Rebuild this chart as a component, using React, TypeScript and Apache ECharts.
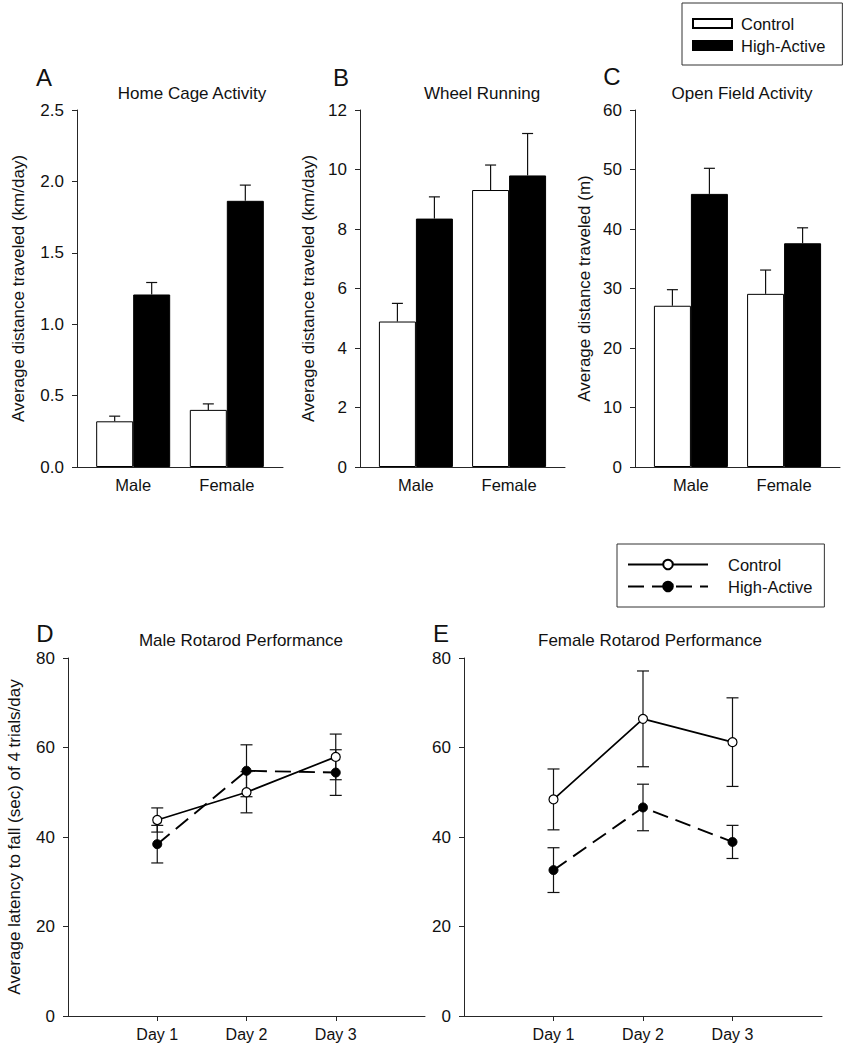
import React, { useEffect, useRef } from "react";
import * as echarts from "echarts";

// ---------- data ----------
const groups = ["Male", "Female"];
const groupPos = [6, 16];
const days = ["Day 1", "Day 2", "Day 3"];
const dayPos = [1, 2, 3];

const homeCageControl = [0.32, 0.4];
const homeCageControlErr = [0.036, 0.042];
const homeCageHigh = [1.208, 1.864];
const homeCageHighErr = [0.084, 0.11];

const wheelControl = [4.89, 9.31];
const wheelControlErr = [0.61, 0.84];
const wheelHigh = [8.35, 9.8];
const wheelHighErr = [0.73, 1.41];

const openFieldControl = [27.1, 29.1];
const openFieldControlErr = [2.7, 4.0];
const openFieldHigh = [45.9, 37.6];
const openFieldHighErr = [4.3, 2.6];

const maleRotaControl = [43.8, 50.0, 57.9];
const maleRotaControlErr = [2.7, 4.6, 5.1];
const maleRotaHigh = [38.4, 54.8, 54.4];
const maleRotaHighErr = [4.2, 5.8, 5.1];

const femaleRotaControl = [48.4, 66.4, 61.2];
const femaleRotaControlErr = [6.8, 10.7, 9.9];
const femaleRotaHigh = [32.6, 46.6, 38.9];
const femaleRotaHighErr = [5.0, 5.2, 3.7];

// ---------- styling ----------
const FONT = "'Liberation Sans', Arial, Helvetica, sans-serif";
const INK = "#111";
const AXIS = "#262626";
const BAR_W = 37;

const axisLine = { show: true, onZero: false, lineStyle: { color: AXIS, width: 1 } };
const tickStyle = { color: AXIS, width: 1 };

function barYAxis(gridIndex: number, max: number, interval: number, name: string, nameGap: number, digits: number) {
  return {
    type: "value",
    gridIndex,
    min: 0,
    max,
    interval,
    axisLine,
    axisTick: { show: true, length: 5, lineStyle: tickStyle },
    axisLabel: {
      margin: 13,
      color: INK,
      fontSize: 17,
      fontFamily: FONT,
      formatter: (v: number) => v.toFixed(digits),
    },
    splitLine: { show: false },
    name,
    nameLocation: "middle",
    nameGap,
    nameTextStyle: { color: INK, fontSize: 17, fontFamily: FONT },
  };
}

function barXAxis(gridIndex: number) {
  return {
    type: "value",
    gridIndex,
    min: 0,
    max: 22,
    axisLine,
    axisTick: { show: false },
    axisLabel: {
      customValues: groupPos,
      margin: 9,
      color: INK,
      fontSize: 16.5,
      fontFamily: FONT,
      formatter: (v: number) => {
        const i = groupPos.indexOf(v);
        return i >= 0 ? groups[i] : "";
      },
    },
    splitLine: { show: false },
  };
}

function lineXAxis(gridIndex: number) {
  return {
    type: "value",
    gridIndex,
    min: 0,
    max: 4,
    interval: 1,
    axisLine,
    axisTick: { show: true, length: 5, lineStyle: tickStyle },
    axisLabel: {
      margin: 10,
      color: INK,
      fontSize: 16,
      fontFamily: FONT,
      showMinLabel: false,
      showMaxLabel: false,
      formatter: (v: number) => {
        const i = dayPos.indexOf(v);
        return i >= 0 ? days[i] : "";
      },
    },
    splitLine: { show: false },
  };
}

function lineYAxis(gridIndex: number, name?: string, nameGap?: number) {
  const ax: any = {
    type: "value",
    gridIndex,
    min: 0,
    max: 80,
    interval: 20,
    axisLine,
    axisTick: { show: true, length: 5, lineStyle: tickStyle },
    axisLabel: { margin: 13, color: INK, fontSize: 17, fontFamily: FONT },
    splitLine: { show: false },
  };
  if (name) {
    ax.name = name;
    ax.nameLocation = "middle";
    ax.nameGap = nameGap;
    ax.nameTextStyle = { color: INK, fontSize: 17, fontFamily: FONT };
  }
  return ax;
}

const errStyle = { stroke: "#111", lineWidth: 1.2 };

function barErrRender(offset: number) {
  return (params: any, api: any) => {
    const x = api.value(0);
    const v = api.value(1);
    const e = api.value(2);
    const p0 = api.coord([x, v]);
    const p1 = api.coord([x, v + e]);
    const cx = p0[0] + offset;
    return {
      type: "group",
      children: [
        { type: "line", shape: { x1: cx, y1: p0[1], x2: cx, y2: p1[1] }, style: errStyle },
        { type: "line", shape: { x1: cx - 5.5, y1: p1[1], x2: cx + 5.5, y2: p1[1] }, style: errStyle },
      ],
    };
  };
}

function lineErrRender(params: any, api: any) {
  const x = api.value(0);
  const v = api.value(1);
  const e = api.value(2);
  const top = api.coord([x, v + e]);
  const bot = api.coord([x, v - e]);
  const cx = top[0];
  return {
    type: "group",
    children: [
      { type: "line", shape: { x1: cx, y1: top[1], x2: cx, y2: bot[1] }, style: errStyle },
      { type: "line", shape: { x1: cx - 6, y1: top[1], x2: cx + 6, y2: top[1] }, style: errStyle },
      { type: "line", shape: { x1: cx - 6, y1: bot[1], x2: cx + 6, y2: bot[1] }, style: errStyle },
    ],
  };
}

function barSeries(axisIndex: number, ctrl: number[], ctrlErr: number[], high: number[], highErr: number[]) {
  return [
    {
      type: "bar",
      name: "Control",
      xAxisIndex: axisIndex,
      yAxisIndex: axisIndex,
      barWidth: BAR_W,
      barGap: "0%",
      itemStyle: { color: "#ffffff", borderColor: "#000", borderWidth: 1 },
      data: groupPos.map((x, i) => [x, ctrl[i]]),
      z: 2,
    },
    {
      type: "bar",
      name: "High-Active",
      xAxisIndex: axisIndex,
      yAxisIndex: axisIndex,
      barWidth: BAR_W,
      barGap: "0%",
      itemStyle: { color: "#000", borderColor: "#000", borderWidth: 1 },
      data: groupPos.map((x, i) => [x, high[i]]),
      z: 2,
    },
    {
      type: "custom",
      name: "ctrl-err",
      xAxisIndex: axisIndex,
      yAxisIndex: axisIndex,
      renderItem: barErrRender(-BAR_W / 2),
      data: groupPos.map((x, i) => [x, ctrl[i], ctrlErr[i]]),
      z: 3,
      silent: true,
    },
    {
      type: "custom",
      name: "high-err",
      xAxisIndex: axisIndex,
      yAxisIndex: axisIndex,
      renderItem: barErrRender(BAR_W / 2),
      data: groupPos.map((x, i) => [x, high[i], highErr[i]]),
      z: 3,
      silent: true,
    },
  ];
}

function lineSeries(axisIndex: number, ctrl: number[], ctrlErr: number[], high: number[], highErr: number[]) {
  return [
    {
      type: "custom",
      name: "ctrl-err-l",
      xAxisIndex: axisIndex,
      yAxisIndex: axisIndex,
      renderItem: lineErrRender,
      data: dayPos.map((x, i) => [x, ctrl[i], ctrlErr[i]]),
      z: 1,
      silent: true,
    },
    {
      type: "custom",
      name: "high-err-l",
      xAxisIndex: axisIndex,
      yAxisIndex: axisIndex,
      renderItem: lineErrRender,
      data: dayPos.map((x, i) => [x, high[i], highErr[i]]),
      z: 1,
      silent: true,
    },
    {
      type: "line",
      name: "Control (rotarod)",
      xAxisIndex: axisIndex,
      yAxisIndex: axisIndex,
      symbol: "circle",
      symbolSize: 9,
      lineStyle: { color: "#000", width: 1.7, type: "solid" },
      itemStyle: { color: "#ffffff", borderColor: "#000", borderWidth: 1.2 },
      data: dayPos.map((x, i) => [x, ctrl[i]]),
      z: 3,
    },
    {
      type: "line",
      name: "High-Active (rotarod)",
      xAxisIndex: axisIndex,
      yAxisIndex: axisIndex,
      symbol: "circle",
      symbolSize: 9,
      lineStyle: { color: "#000", width: 1.9, type: [16, 8] },
      itemStyle: { color: "#000", borderColor: "#000", borderWidth: 1 },
      data: dayPos.map((x, i) => [x, high[i]]),
      z: 3,
    },
  ];
}

function txt(text: string, x: number, y: number, size: number) {
  return {
    type: "text",
    x,
    y,
    style: {
      text,
      fill: INK,
      font: `${size}px ${FONT}`,
      textAlign: "center",
      textVerticalAlign: "middle",
    },
  };
}

export default function App() {
  const ref = useRef<HTMLDivElement>(null);

  useEffect(() => {
    if (!ref.current) return;
    const chart = echarts.init(ref.current, undefined, { renderer: "svg" });

    const option: any = {
      animation: false,
      backgroundColor: "#ffffff",
      textStyle: { fontFamily: FONT },
      grid: [
        { left: 77, top: 110, width: 206, height: 357, outerBoundsMode: "none" },
        { left: 360, top: 110, width: 205, height: 357, outerBoundsMode: "none" },
        { left: 635, top: 110, width: 205, height: 357, outerBoundsMode: "none" },
        { left: 68, top: 658, width: 357, height: 358, outerBoundsMode: "none" },
        { left: 464, top: 658, width: 358, height: 358, outerBoundsMode: "none" },
      ],
      xAxis: [barXAxis(0), barXAxis(1), barXAxis(2), lineXAxis(3), lineXAxis(4)],
      yAxis: [
        barYAxis(0, 2.5, 0.5, "Average distance traveled (km/day)", 50, 1),
        barYAxis(1, 12, 2, "Average distance traveled (km/day)", 43, 0),
        barYAxis(2, 60, 10, "Average distance traveled (m)", 42, 0),
        lineYAxis(3, "Average latency to fall (sec) of 4 trials/day", 45),
        lineYAxis(4),
      ],
      legend: [
        {
          data: ["Control", "High-Active"],
          orient: "vertical",
          left: 682,
          top: 3,
          padding: [12, 17, 11, 10],
          itemWidth: 39,
          itemHeight: 9,
          itemGap: 5,
          icon: "rect",
          selectedMode: false,
          borderColor: "#333",
          borderWidth: 1,
          textStyle: { color: INK, fontSize: 16.5, fontFamily: FONT, lineHeight: 16, padding: [0, 0, 0, 4] },
        },
        {
          data: ["Control (rotarod)", "High-Active (rotarod)"],
          orient: "vertical",
          left: 617,
          top: 544,
          padding: [12, 12, 12, 10],
          itemWidth: 80,
          itemHeight: 12,
          itemGap: 5,
          selectedMode: false,
          borderColor: "#333",
          borderWidth: 1,
          formatter: (name: string) => name.replace(" (rotarod)", ""),
          textStyle: { color: INK, fontSize: 16.5, fontFamily: FONT, lineHeight: 16, padding: [0, 0, 0, 15] },
        },
      ],
      graphic: [
        txt("A", 44, 77, 24),
        txt("B", 341, 77, 24),
        txt("C", 612, 76, 24),
        txt("D", 45, 633, 24),
        txt("E", 441, 633, 24),
        txt("Home Cage Activity", 192, 93, 17),
        txt("Wheel Running", 482, 93, 17),
        txt("Open Field Activity", 742, 93, 17),
        txt("Male Rotarod Performance", 241, 640, 17),
        txt("Female Rotarod Performance", 650, 640, 17),
      ],
      series: [
        ...barSeries(0, homeCageControl, homeCageControlErr, homeCageHigh, homeCageHighErr),
        ...barSeries(1, wheelControl, wheelControlErr, wheelHigh, wheelHighErr),
        ...barSeries(2, openFieldControl, openFieldControlErr, openFieldHigh, openFieldHighErr),
        ...lineSeries(3, maleRotaControl, maleRotaControlErr, maleRotaHigh, maleRotaHighErr),
        ...lineSeries(4, femaleRotaControl, femaleRotaControlErr, femaleRotaHigh, femaleRotaHighErr),
      ],
    };

    chart.setOption(option);
    return () => chart.dispose();
  }, []);

  return (
    <div
      ref={ref}
      style={{ position: "absolute", left: 0, top: 0, width: 843, height: 1050, background: "#fff" }}
    />
  );
}
